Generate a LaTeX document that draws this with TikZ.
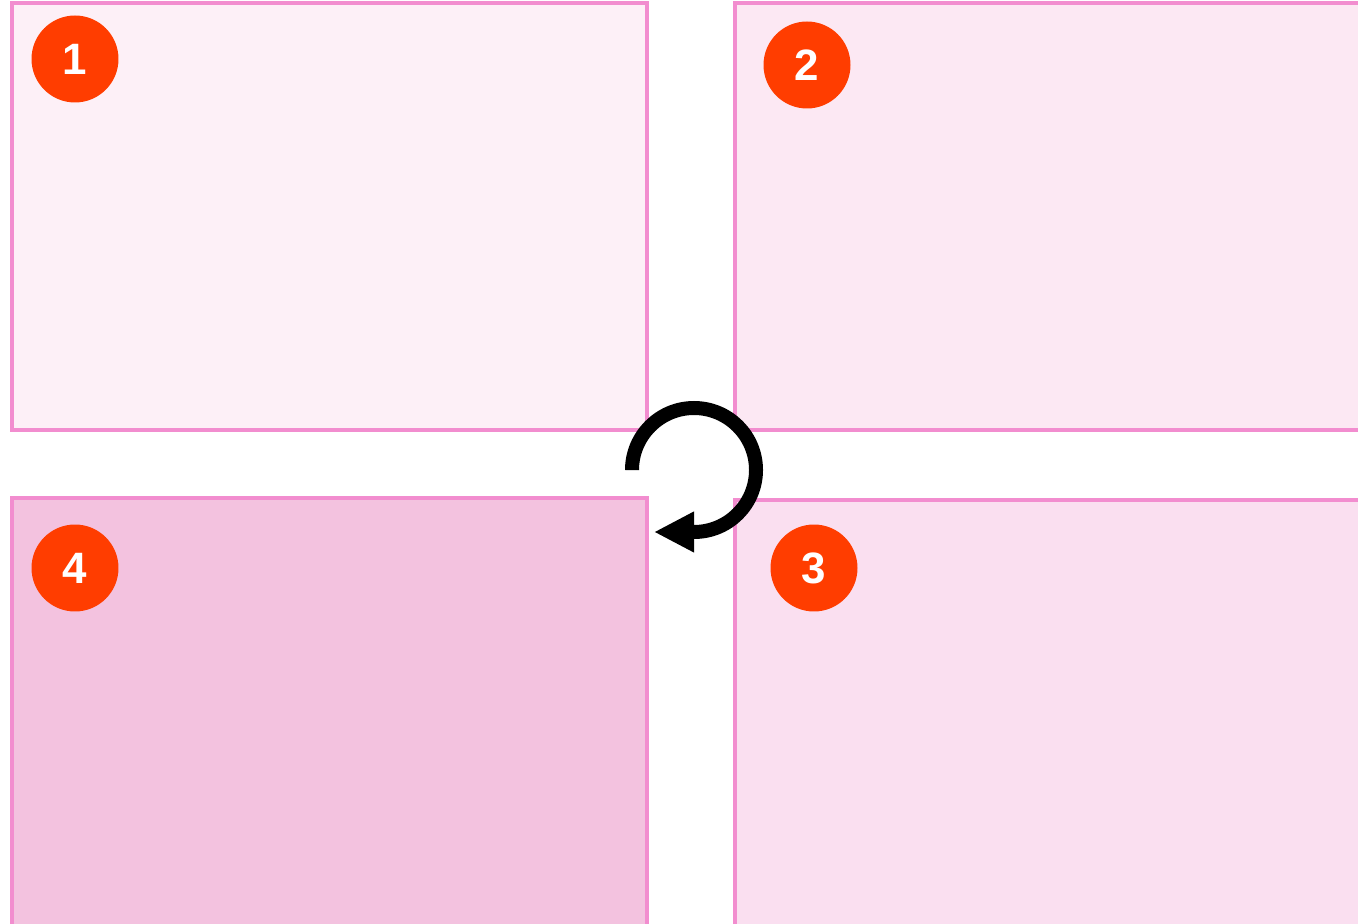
\documentclass[tikz,border=0pt]{standalone}
\usepackage{fontspec}
\setmainfont{Liberation Sans}
\usepackage{xcolor}
\usetikzlibrary{arrows.meta}

\definecolor{panelline}{HTML}{F28DCF}
\definecolor{fillone}{HTML}{FDF0F7}
\definecolor{filltwo}{HTML}{FCE8F3}
\definecolor{fillthree}{HTML}{FADFF0}
\definecolor{fillfour}{HTML}{F3C2DF}
\definecolor{badgered}{HTML}{FF3D00}

\tikzset{
  panel/.style={draw=panelline, line width=0.08cm},
  badge/.style={circle, fill=badgered, minimum size=1.74cm, inner sep=0pt,
    text=white, font=\fontsize{25}{25}\selectfont\bfseries},
  turn/.style={line width=0.28cm, -{Triangle[length=0.8cm,width=0.76cm]}}
}

\begin{document}
\begin{tikzpicture}[x=0.02cm,y=0.02cm]
\useasboundingbox (0,0) rectangle (1358,923);
\clip (0,0) rectangle (1358,923);

% panels
\draw[panel, fill=fillone]   (12,493) rectangle (647,920);
\draw[panel, fill=filltwo]   (735,493) rectangle (1380,920);
\draw[panel, fill=fillthree] (735,-20) rectangle (1380,423);
\draw[panel, fill=fillfour]  (12,-20) rectangle (647,425);

% badges
\node[badge] (n1) at (75,864) {1};
\node[badge] (n2) at (807,858) {2};
\node[badge] (n3) at (814,355) {3};
\node[badge] (n4) at (75,355) {4};

% rotation arrow
\coordinate (hub) at (694,453);
\coordinate (turnstart) at (632,455);
\draw[turn] (turnstart) -- (632,453) arc[start angle=180, end angle=-90, radius=62]
  -- ++(-40,0);

\end{tikzpicture}
\end{document}
